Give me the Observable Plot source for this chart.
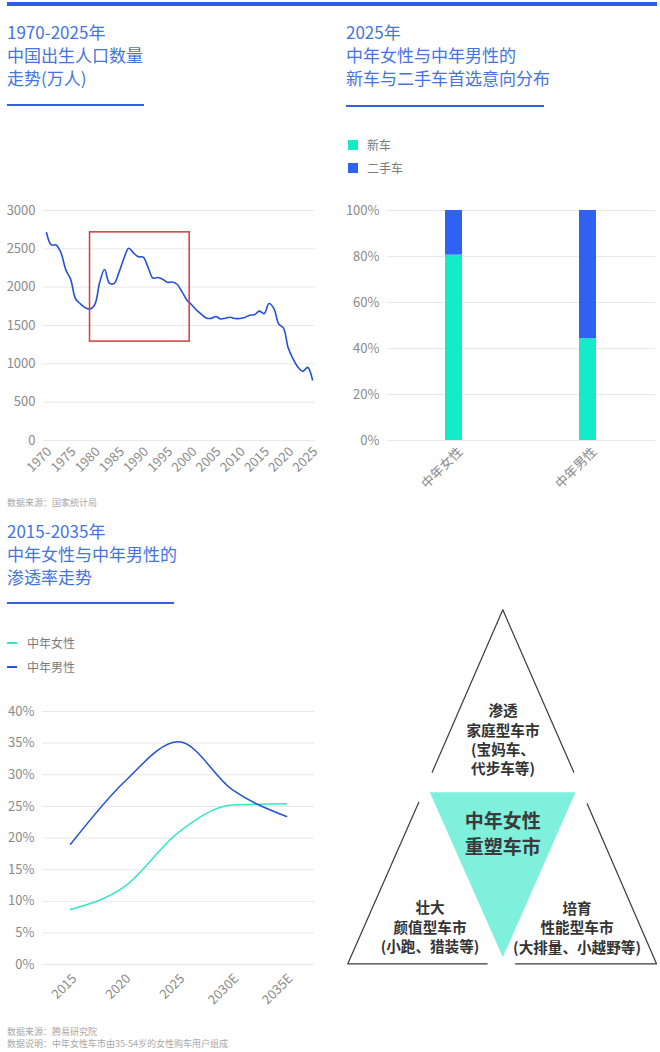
<!DOCTYPE html>
<html><head><meta charset="utf-8">
<script src="https://cdn.jsdelivr.net/npm/d3@7"></script>
<script src="https://cdn.jsdelivr.net/npm/@observablehq/plot@0.6"></script>
<style>
body{margin:0;background:#fff;font-family:"Noto Sans CJK SC","Noto Sans",sans-serif;}
#page{position:relative;width:660px;height:1052px;overflow:hidden;background:#fff;}
.abs{position:absolute;}
.title{color:#4474de;font-size:17px;line-height:23px;white-space:nowrap;}
.uline{height:2px;background:#3562db;}
.src{color:#a8a8a8;font-size:9px;line-height:12px;white-space:nowrap;}
.leg{color:#7a7a7a;font-size:12px;line-height:14px;white-space:nowrap;}
.sw{position:absolute;width:10px;height:10px;}
.ln{position:absolute;width:10px;height:2px;}
</style></head><body><div id="page"></div>
<script>
// ---------- DATA ----------
const birthYears = [1970,1971,1972,1973,1974,1975,1976,1977,1978,1979,1980,1981,1982,1983,1984,1985,1986,1987,1988,1989,1990,1991,1992,1993,1994,1995,1996,1997,1998,1999,2000,2001,2002,2003,2004,2005,2006,2007,2008,2009,2010,2011,2012,2013,2014,2015,2016,2017,2018,2019,2020,2021,2022,2023,2024,2025];
const births = [2710,2551,2550,2447,2226,2102,1849,1783,1733,1715,1776,2064,2230,2052,2050,2196,2374,2508,2445,2396,2391,2258,2119,2126,2104,2063,2067,2038,1942,1834,1771,1702,1647,1599,1593,1617,1585,1595,1608,1591,1592,1604,1635,1640,1687,1655,1786,1723,1523,1465,1202,1062,956,902,954,792];
const birthYTicks = [0,500,1000,1500,2000,2500,3000];
const birthXTicks = [1970,1975,1980,1985,1990,1995,2000,2005,2010,2015,2020,2025];
const highlightYears = [1979, 1999.6];
const highlightBirths = [1290, 2715];

const carGroups = ["中年女性","中年男性"];
const carTypes = ["新车","二手车"];
const newCarShare = [80.6, 44.3];
const usedCarShare = [19.4, 55.7];
const shareTicks = [0,20,40,60,80,100];

const penYears = ["2015","2020","2025","2030E","2035E"];
const penSeries = ["中年女性","中年男性"];
const penFemale = [8.7, 12.3, 20.9, 25.2, 25.4];
const penMale = [19.0, 28.9, 35.2, 27.6, 23.4];
const penTicks = [0,5,10,15,20,25,30,35,40];

const diagramCenter = "中年女性\n重塑车市";
const diagramLabels = ["渗透\n家庭型车市\n(宝妈车、\n代步车等)", "壮大\n颜值型车市\n(小跑、猎装等)", "培育\n性能型车市\n(大排量、小越野等)"];

// ---------- STYLE ----------
const FONT = '"Noto Sans CJK SC","Noto Sans",sans-serif';
const TEAL = "#14ecc9", BLUE = "#2f62f2", LINEBLUE = "#2650d6", LINETEAL = "#33e6c6";
const GRID = "#e8e8e8", AXIS = "#8a8a8a";

const page = document.getElementById("page");
function add(html){ page.insertAdjacentHTML("beforeend", html); }
function place(node, left, top){ node.style.position="absolute"; node.style.left=left+"px"; node.style.top=top+"px"; page.appendChild(node); }

// header & titles
add(`<div class="abs" style="left:7px;top:2px;width:650px;height:4px;background:#2f5de6"></div>`);
add(`<div class="abs title" style="left:7px;top:20px">1970-2025年<br>中国出生人口数量<br>走势(万人)</div>`);
add(`<div class="abs uline" style="left:7px;top:104px;width:137px"></div>`);
add(`<div class="abs title" style="left:346px;top:20px">2025年<br>中年女性与中年男性的<br>新车与二手车首选意向分布</div>`);
add(`<div class="abs uline" style="left:346px;top:105px;width:198px"></div>`);
add(`<div class="sw" style="left:348px;top:140px;background:${TEAL}"></div><div class="abs leg" style="left:367px;top:138px">${carTypes[0]}</div>`);
add(`<div class="sw" style="left:348px;top:163px;background:${BLUE}"></div><div class="abs leg" style="left:367px;top:161px">${carTypes[1]}</div>`);
add(`<div class="abs src" style="left:7px;top:497px">数据来源：国家统计局</div>`);
add(`<div class="abs title" style="left:7px;top:519px">2015-2035年<br>中年女性与中年男性的<br>渗透率走势</div>`);
add(`<div class="abs uline" style="left:7px;top:602px;width:167px"></div>`);
add(`<div class="ln" style="left:7px;top:642px;background:${LINETEAL}"></div><div class="abs leg" style="left:27px;top:636px">${penSeries[0]}</div>`);
add(`<div class="ln" style="left:7px;top:666px;background:${LINEBLUE}"></div><div class="abs leg" style="left:27px;top:660px">${penSeries[1]}</div>`);
add(`<div class="abs src" style="left:7px;top:1026px">数据来源：腾易研究院<br>数据说明：中年女性车市由35-54岁的女性购车用户组成</div>`);

const baseStyle = {fontFamily: FONT, fontSize: "13px", color: AXIS, background: "transparent", overflow: "visible"};

// chart 1: births
const birthData = birthYears.map((y,i)=>({year:y, births:births[i]}));
const chart1 = Plot.plot({
  width: 330, height: 320, marginLeft: 43, marginRight: 15, marginTop: 20, marginBottom: 70,
  style: baseStyle,
  x: {domain: [1970, 2025], insetLeft: 3, insetRight: 3, label: null},
  y: {domain: [0, 3000], label: null},
  marks: [
    Plot.gridY(birthYTicks, {stroke: GRID, strokeOpacity: 1}),
    Plot.axisY(birthYTicks, {tickSize: 0, tickPadding: 8, tickFormat: d=>String(d), label: null}),
    Plot.axisX(birthXTicks, {tickSize: 0, tickPadding: 6, tickRotate: -45, tickFormat: d=>String(d), label: null, dx: 3, dy: 3}),
    Plot.line(birthData, {x: "year", y: "births", stroke: LINEBLUE, strokeWidth: 1.6, curve: "catmull-rom"}),
    Plot.rect([{x1: highlightYears[0], x2: highlightYears[1], y1: highlightBirths[0], y2: highlightBirths[1]}], {x1: "x1", x2: "x2", y1: "y1", y2: "y2", fill: "none", stroke: "#d83a3a", strokeWidth: 1.5})
  ]
});
place(chart1, 0, 190);

// chart 2: stacked bars
const shareData = [];
carTypes.forEach((t, ti) => carGroups.forEach((g, gi) => shareData.push({group: g, type: t, value: (ti===0?newCarShare:usedCarShare)[gi]})));
const chart2 = Plot.plot({
  width: 330, height: 320, marginLeft: 57, marginRight: 5, marginTop: 20, marginBottom: 70,
  style: baseStyle,
  x: {domain: carGroups, padding: 0, label: null},
  y: {domain: [0, 100], label: null},
  color: {domain: carTypes, range: [TEAL, BLUE]},
  marks: [
    Plot.gridY(shareTicks, {stroke: GRID, strokeOpacity: 1}),
    Plot.axisY(shareTicks, {tickSize: 0, tickPadding: 8, tickFormat: d=>d+"%", label: null}),
    Plot.axisX({tickSize: 0, tickPadding: 6, tickRotate: -45, label: null, dx: 6, dy: 3}),
    Plot.barY(shareData, {x: "group", y: "value", fill: "type", insetLeft: 58, insetRight: 59})
  ]
});
place(chart2, 330, 190);

// chart 3: penetration lines
const penData = [];
penYears.forEach((y,i)=>{ penData.push({year:y, series:penSeries[0], v:penFemale[i]}); penData.push({year:y, series:penSeries[1], v:penMale[i]}); });
const chart3 = Plot.plot({
  width: 330, height: 330, marginLeft: 42, marginRight: 16, marginTop: 21, marginBottom: 56,
  style: baseStyle,
  x: {type: "point", domain: penYears, padding: 0.5, label: null},
  y: {domain: [0, 40], label: null},
  color: {domain: penSeries, range: [LINETEAL, LINEBLUE]},
  marks: [
    Plot.gridY(penTicks, {stroke: GRID, strokeOpacity: 1}),
    Plot.axisY(penTicks, {tickSize: 0, tickPadding: 8, tickFormat: d=>d+"%", label: null}),
    Plot.axisX({tickSize: 0, tickPadding: 8, tickRotate: -45, label: null, dx: 4, dy: 4}),
    Plot.line(penData, {x: "year", y: "v", z: "series", stroke: "series", strokeWidth: 1.5, curve: "monotone-x"})
  ]
});
place(chart3, 0, 690);

// chart 4: triangle diagram (geometry in diagram units)
const outlines = [
  {id:"top", pts:[[91.7,171.7],[162.3,9.3],[233.3,171.7]]},
  {id:"bl", pts:[[146.7,363.3],[7.3,363.3],[78.3,201.7]]},
  {id:"br", pts:[[246.7,203.3],[316,363.3],[175,363.3]]}
];
const outlineData = outlines.flatMap(o => o.pts.map(p => ({id:o.id, x:p[0], y:p[1]})));
const centerTri = [[89.3,191.7],[235,191.7],[162.3,356.7],[89.3,191.7]].map(p=>({x:p[0], y:p[1]}));
const labelPos = [[162.5,138.5],[89.5,326],[236.5,326.5]];
const labelData = diagramLabels.map((t,i)=>({text:t, x:labelPos[i][0], y:labelPos[i][1]}));
const chart4 = Plot.plot({
  width: 320, height: 380, margin: 0,
  style: {fontFamily: FONT, background: "transparent", overflow: "visible"},
  x: {domain: [0, 320], range: [0, 320], axis: null},
  y: {domain: [0, 380], range: [0, 380], axis: null},
  marks: [
    Plot.line(centerTri, {x: "x", y: "y", fill: "#7ff0dc", stroke: "none"}),
    Plot.line(outlineData, {x: "x", y: "y", z: "id", stroke: "#3a3a3a", strokeWidth: 1.2}),
    Plot.text(labelData, {x: "x", y: "y", text: "text", fontSize: 14.6, fontWeight: "bold", fill: "#333", lineHeight: 1.33}),
    Plot.text([{t: diagramCenter}], {x: () => 162.3, y: () => 232.5, text: "t", fontSize: 19, fontWeight: "bold", fill: "#3a3a3a", lineHeight: 1.34})
  ]
});
place(chart4, 340, 600);
</script></body></html>
